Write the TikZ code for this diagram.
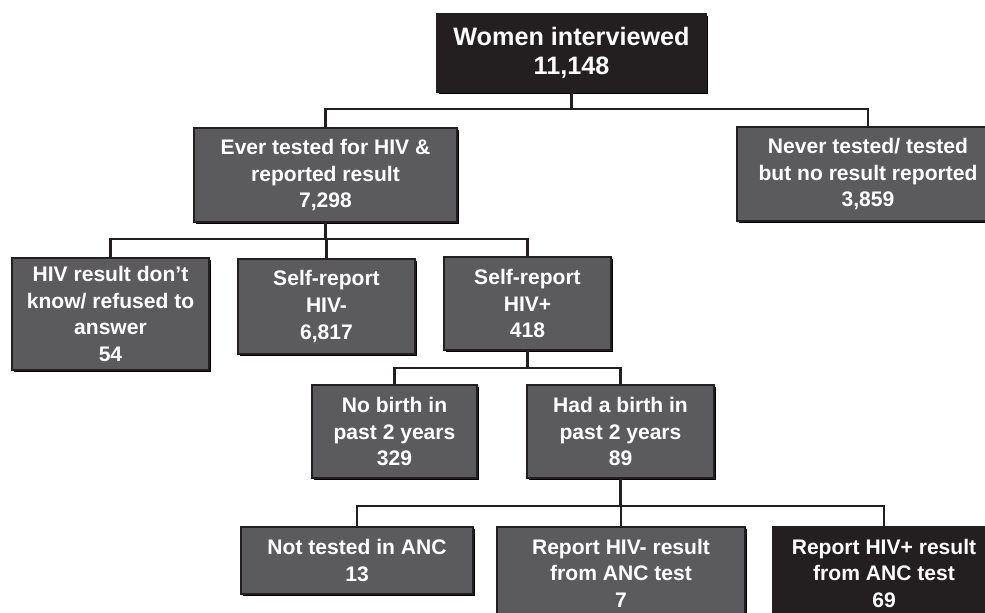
\documentclass[tikz,border=0pt]{standalone}
\usepackage{fontspec}
\setmainfont{Liberation Sans}
\usetikzlibrary{shadows}
\definecolor{boxgray}{HTML}{5B5B5D}
\definecolor{boxblack}{HTML}{231F20}
\begin{document}
\begin{tikzpicture}[x=0.75pt,y=0.75pt]
\tikzstyle{every node}+=[inner sep=0pt]
\tikzstyle{box}=[draw=boxblack, line width=1.3pt, fill=boxgray, text=white, align=center,
  font=\fontsize{15.8}{19.9}\selectfont\bfseries,
  drop shadow={shadow xshift=1.6pt, shadow yshift=-1.6pt, opacity=1, fill=black}]
\tikzstyle{darkbox}=[box, fill=boxblack]
\tikzstyle{link}=[draw=boxblack, line width=1.7pt]
\clip (0,0) rectangle (985,-613);
\fill [white] (0,0) rectangle (985,-613);
% bus levels
\coordinate (bus1) at (0,-109);
\coordinate (bus2) at (0,-239);
\coordinate (bus3) at (0,-368);
\coordinate (bus4) at (0,-506);
\node [darkbox, minimum width=201.75pt, minimum height=58.5pt, font=\fontsize{18.9}{21.8}\selectfont\bfseries] (women) at (571.5,-53) {Women interviewed\\11,148};
\node [box, minimum width=197.25pt, minimum height=70.5pt] (ever) at (325.5,-175) {Ever tested for HIV \&\\reported result\\7,298};
\node [box, minimum width=196.5pt, minimum height=70.5pt] (never) at (868,-174) {Never tested/ tested\\but no result reported\\3,859};
\node [box, minimum width=147.75pt, minimum height=84pt] (dk) at (110.5,-314) {HIV result don’t\\know/ refused to\\answer\\54};
\node [box, minimum width=132.75pt, minimum height=71.25pt] (neg) at (326.5,-306.5) {Self-report\\HIV-\\6,817};
\node [box, minimum width=125.25pt, minimum height=69.75pt] (pos) at (527.5,-303.5) {Self-report\\HIV+\\418};
\node [box, minimum width=123.75pt, minimum height=69.75pt] (nobirth) at (394.5,-431.5) {No birth in\\past 2 years\\329};
\node [box, minimum width=140.25pt, minimum height=69.75pt] (birth) at (620.5,-431.5) {Had a birth in\\past 2 years\\89};
\node [box, minimum width=174pt, minimum height=50.25pt] (notanc) at (357,-560.5) {Not tested in ANC\\13};
\node [box, minimum width=186pt, minimum height=69pt] (ancneg) at (621,-573) {Report HIV- result\\from ANC test\\7};
\node [darkbox, minimum width=166.5pt, minimum height=69pt] (ancpos) at (884,-573) {Report HIV+ result\\from ANC test\\69};
% elbow connectors
\draw [link] (women.south) -- (women.south |- bus1) -| (ever.north);
\draw [link] (women.south |- bus1) -| (never.north);
\draw [link] (ever.south) -- (ever.south |- bus2) -| (dk.north);
\draw [link] (ever.south |- bus2) -| (neg.north);
\draw [link] (ever.south |- bus2) -| (pos.north);
\draw [link] (pos.south) -- (pos.south |- bus3) -| (nobirth.north);
\draw [link] (pos.south |- bus3) -| (birth.north);
\draw [link] (birth.south) -- (birth.south |- bus4) -| (notanc.north);
\draw [link] (birth.south |- bus4) -| (ancneg.north);
\draw [link] (birth.south |- bus4) -| (ancpos.north);
\end{tikzpicture}
\end{document}
